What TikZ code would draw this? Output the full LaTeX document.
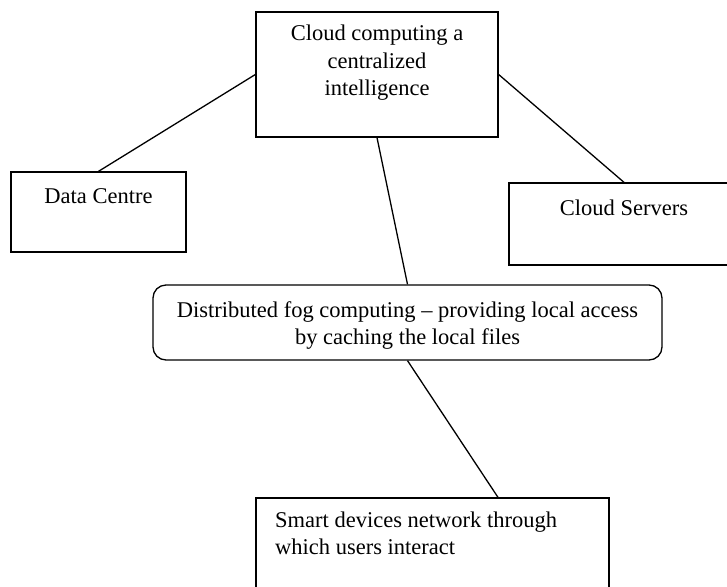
\documentclass[tikz,border=0pt]{standalone}
\usepackage{fontspec}
\setmainfont{Liberation Serif}
\begin{document}
\begin{tikzpicture}[x=1pt,y=-1pt,
  box/.style={draw, line width=1.3pt, rectangle, inner sep=0pt},
  rbox/.style={box, rounded corners=13pt},
  txt/.style={inner sep=0pt, anchor=base, font=\fontsize{22.5}{27}\selectfont},
  ltxt/.style={txt, anchor=base west},
  link/.style={line width=1.3pt}]
\clip (0,0) rectangle (727,586);
\fill[white] (0,0) rectangle (727,586);
% boxes
\node[box, minimum width=242pt, minimum height=125pt] (top) at (377,74.5) {};
\node[box, minimum width=175pt, minimum height=80pt] (dc) at (98.5,212) {};
\node[box, minimum width=230pt, minimum height=82pt] (cs) at (624,224) {};
\node[rbox, minimum width=509pt, minimum height=75pt] (fog) at (407.5,322.5) {};
\node[box, minimum width=353pt, minimum height=100pt] (sm) at (432.5,548) {};
% texts
\node[txt] (t1) at (377,41) {Cloud computing a};
\node[txt] (t2) at (377,68) {centralized};
\node[txt] (t3) at (377,95) {intelligence};
\node[txt] (d1) at (98.5,203) {Data Centre};
\node[txt] (c1) at (624,215) {Cloud Servers};
\node[txt] (f1) at (407.5,317) {Distributed fog computing -- providing local access};
\node[txt] (f2) at (407.5,344) {by caching the local files};
\node[ltxt] (s1) at (275,527) {Smart devices network through};
\node[ltxt] (s2) at (275,554) {which users interact};
% connectors
\coordinate (smtop) at ([xshift=65.5pt]sm.north);
\draw[link] (top.west) -- (dc.north);
\draw[link] (top.east) -- (cs.north);
\draw[link] (top.south) -- (fog.north);
\draw[link] (fog.south) -- (smtop);
\end{tikzpicture}
\end{document}
